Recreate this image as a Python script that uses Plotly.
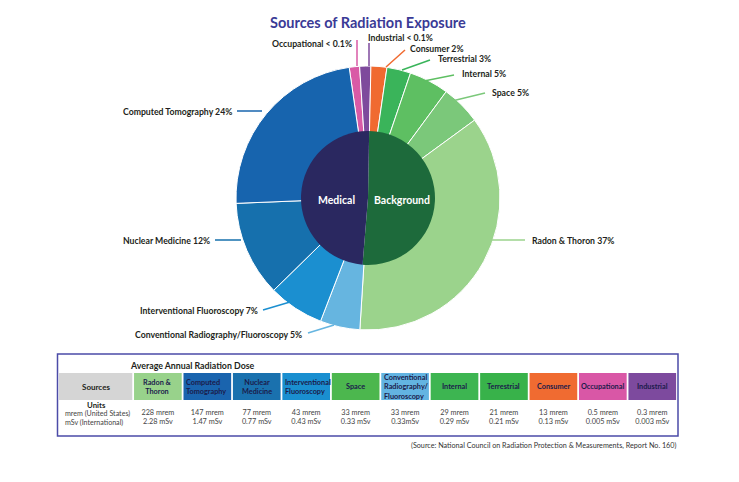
import plotly.graph_objects as go

W, H = 739, 482
FONT = "Lato"
OFF = 8  # page body margin in the browser

# ---------------- data ----------------
title_text = "Sources of Radiation Exposure"

outer_names = ["Occupational", "Industrial", "Consumer", "Terrestrial", "Internal", "Space",
               "Radon & Thoron", "Conventional Radiography/Fluoroscopy",
               "Interventional Fluoroscopy", "Nuclear Medicine", "Computed Tomography"]
outer_share = [1.3, 1.4, 2, 3, 5, 5, 37, 5, 7, 12, 24]
outer_text = ["Occupational < 0.1%", "Industrial < 0.1%", "Consumer 2%", "Terrestrial 3%",
              "Internal 5%", "Space 5%", "Radon & Thoron 37%",
              "Conventional Radiography/Fluoroscopy 5%", "Interventional Fluoroscopy 7%",
              "Nuclear Medicine 12%", "Computed Tomography 24%"]
outer_colors = ["#d95aa6", "#7e4a9c", "#f06a30", "#3ab45a", "#5ebf62", "#7bc87a",
                "#9bd38c", "#66b5e0", "#1b8fd0", "#1670ad", "#1764ae"]

inner_names = ["Background", "Medical"]
inner_share = [50, 48]
inner_colors = ["#1d6a3b", "#2a2860"]

table_title = "Average Annual Radiation Dose"
table_first = "Sources"
table_heads = ["Radon &<br>Thoron", "Computed<br>Tomography", "Nuclear<br>Medicine",
               "Interventional<br>Fluoroscopy", "Space", "Conventional<br>Radiography/<br>Fluoroscopy",
               "Internal", "Terrestrial", "Consumer", "Occupational", "Industrial"]
table_head_align = ["center", "left", "center", "left", "center", "left",
                    "center", "center", "center", "center", "center"]
table_colors = ["#98d28b", "#1a64ae", "#1a71ae", "#1a8fd0", "#4cb74e", "#63b4e2",
                "#3db551", "#38b24a", "#f06b31", "#d957a6", "#7d4a9e"]
units_title = "Units"
units_rows = ["mrem (United States)", "mSv (International)"]
dose_mrem = ["228 mrem", "147 mrem", "77 mrem", "43 mrem", "33 mrem", "33 mrem",
             "29 mrem", "21 mrem", "13 mrem", "0.5 mrem", "0.3 mrem"]
dose_msv = ["2.28 mSv", "1.47 mSv", "0.77 mSv", "0.43 mSv", "0.33 mSv", "0.33mSv",
            "0.29 mSv", "0.21 mSv", "0.13 mSv", "0.005 mSv", "0.003 mSv"]
source_note = "(Source: National Council on Radiation Protection & Measurements, Report No. 160)"

# ---------------- layout helpers ----------------
def px(x):
    return (x - OFF) / W

def py(y):
    return 1 - (y - OFF) / H

# label layout: (anchor x, y, xanchor, leader start, leader end) in pixels
label_layout = [
    (354, 44, "right", (357, 40), (357, 66)),
    (366, 37, "left", (369, 43), (369, 66)),
    (408, 48, "left", (405, 50), (386, 67)),
    (436, 59, "left", (430, 60), (402, 70)),
    (460, 74, "left", (454, 75), (424, 81)),
    (490, 92, "left", (485, 93), (452, 101)),
    (530, 240, "left", (525, 240), (492, 240)),
    (304, 334, "right", (308, 333), (334, 325)),
    (260, 310, "right", (263, 310), (290, 302)),
    (212, 240, "right", (215, 240), (241, 240)),
    (234, 111, "right", (237, 111), (262, 111)),
]

fig = go.Figure()

fig.add_trace(go.Pie(
    values=outer_share, labels=outer_names, sort=False, direction="clockwise",
    rotation=-8.2, textinfo="none", hole=0.45,
    marker=dict(colors=outer_colors, line=dict(color="white", width=1)),
    domain=dict(x=[px(236), px(500)], y=[py(330), py(66)]),
    showlegend=False, hoverinfo="label+percent",
))
fig.add_trace(go.Pie(
    values=inner_share, labels=inner_names, sort=False, direction="clockwise",
    rotation=1, textinfo="none",
    marker=dict(colors=inner_colors, line=dict(color=inner_colors[0], width=0)),
    domain=dict(x=[px(301), px(435)], y=[py(265), py(131)]),
    showlegend=False, hoverinfo="label",
))

annotations = []
shapes = []

annotations.append(dict(text="<b>" + title_text + "</b>", x=px(368), y=py(22), xref="paper", yref="paper",
                        showarrow=False, font=dict(family=FONT, size=14.5, color="#3a3a96"),
                        xanchor="center", yanchor="middle"))

for txt, col, (lx, ly, xa, (sx, sy), (ex, ey)) in zip(outer_text, outer_colors, label_layout):
    annotations.append(dict(text="<b>" + txt + "</b>", x=px(lx), y=py(ly), xref="paper", yref="paper",
                            showarrow=False, xanchor=xa, yanchor="middle",
                            font=dict(family=FONT, size=8.7, color="#231f20")))
    shapes.append(dict(type="line", xref="paper", yref="paper", x0=px(sx), y0=py(sy),
                       x1=px(ex), y1=py(ey), line=dict(color=col, width=1.5)))

# inner labels
for name, x in zip(inner_names, [402, 336]):
    annotations.append(dict(text="<b>" + name + "</b>", x=px(x), y=py(200), xref="paper", yref="paper",
                            showarrow=False, font=dict(family=FONT, size=10.5, color="white"),
                            xanchor="center", yanchor="middle"))

# ---------------- table ----------------
ncol = len(table_heads)
first_w = 1.5
lefts = [first_w + i for i in range(ncol)]
centers = [l + 0.5 for l in lefts]
HEAD_Y0, HEAD_Y1 = 19, 46
ROW_UNITS, ROW_MREM, ROW_MSV = 51, 59.5, 68.5
gap = 0.018

shapes.append(dict(type="rect", xref="x", yref="y", x0=0, x1=first_w - gap, y0=HEAD_Y0, y1=HEAD_Y1,
                   fillcolor="#d5d5d5", line=dict(width=0), layer="below"))
annotations.append(dict(text="<b>" + table_first + "</b>", x=first_w / 2, y=(HEAD_Y0 + HEAD_Y1) / 2,
                        xref="x", yref="y", showarrow=False,
                        font=dict(family=FONT, size=8, color="#231f20")))

for l, c, head, al, colr in zip(lefts, centers, table_heads, table_head_align, table_colors):
    shapes.append(dict(type="rect", xref="x", yref="y", x0=l + gap, x1=l + 1 - gap, y0=HEAD_Y0, y1=HEAD_Y1,
                       fillcolor=colr, line=dict(width=0), layer="below"))
    if al == "left":
        ax, xa = l + 0.03, "left"
    else:
        ax, xa = c, "center"
    annotations.append(dict(text="<b>" + head + "</b>", x=ax, y=(HEAD_Y0 + HEAD_Y1) / 2, xref="x", yref="y",
                            showarrow=False, xanchor=xa, align=al,
                            font=dict(family=FONT, size=7.3, color="#1b1b4b")))

annotations.append(dict(text="<b>" + table_title + "</b>", x=2.7, y=11, xref="x", yref="y",
                        showarrow=False, font=dict(family=FONT, size=8.8, color="#231f20")))
annotations.append(dict(text="<b>" + units_title + "</b>", x=first_w / 2, y=ROW_UNITS, xref="x", yref="y",
                        showarrow=False, font=dict(family=FONT, size=7.8, color="#231f20")))
for txt, yy in zip(units_rows, [ROW_MREM, ROW_MSV]):
    annotations.append(dict(text=txt, x=0.08, y=yy, xref="x", yref="y", xanchor="left",
                            showarrow=False, font=dict(family=FONT, size=7.1, color="#444444")))

fig.add_trace(go.Scatter(x=centers, y=[ROW_MREM] * ncol, text=dose_mrem, mode="text", xaxis="x", yaxis="y",
                         textfont=dict(family=FONT, size=7.3, color="#444444"), showlegend=False,
                         hoverinfo="skip"))
fig.add_trace(go.Scatter(x=centers, y=[ROW_MSV] * ncol, text=dose_msv, mode="text", xaxis="x", yaxis="y",
                         textfont=dict(family=FONT, size=7.3, color="#444444"), showlegend=False,
                         hoverinfo="skip"))

# table border
shapes.append(dict(type="rect", xref="paper", yref="paper", x0=px(57.5), x1=px(678), y0=py(436), y1=py(354),
                   line=dict(color="#4b4ba8", width=1.5), fillcolor="rgba(0,0,0,0)"))

annotations.append(dict(text=source_note, x=px(678), y=py(445), xref="paper", yref="paper",
                        xanchor="right", yanchor="middle", showarrow=False,
                        font=dict(family=FONT, size=7.2, color="#333333")))

fig.update_layout(
    width=W, height=H, margin=dict(l=0, r=0, t=0, b=0),
    paper_bgcolor="white", plot_bgcolor="rgba(0,0,0,0)",
    xaxis=dict(domain=[px(59), px(677)], range=[0, first_w + ncol], visible=False, fixedrange=True),
    yaxis=dict(domain=[py(436), py(354)], range=[82, 0], visible=False, fixedrange=True),
    annotations=annotations, shapes=shapes, showlegend=False,
)

fig.write_html("out.html")
